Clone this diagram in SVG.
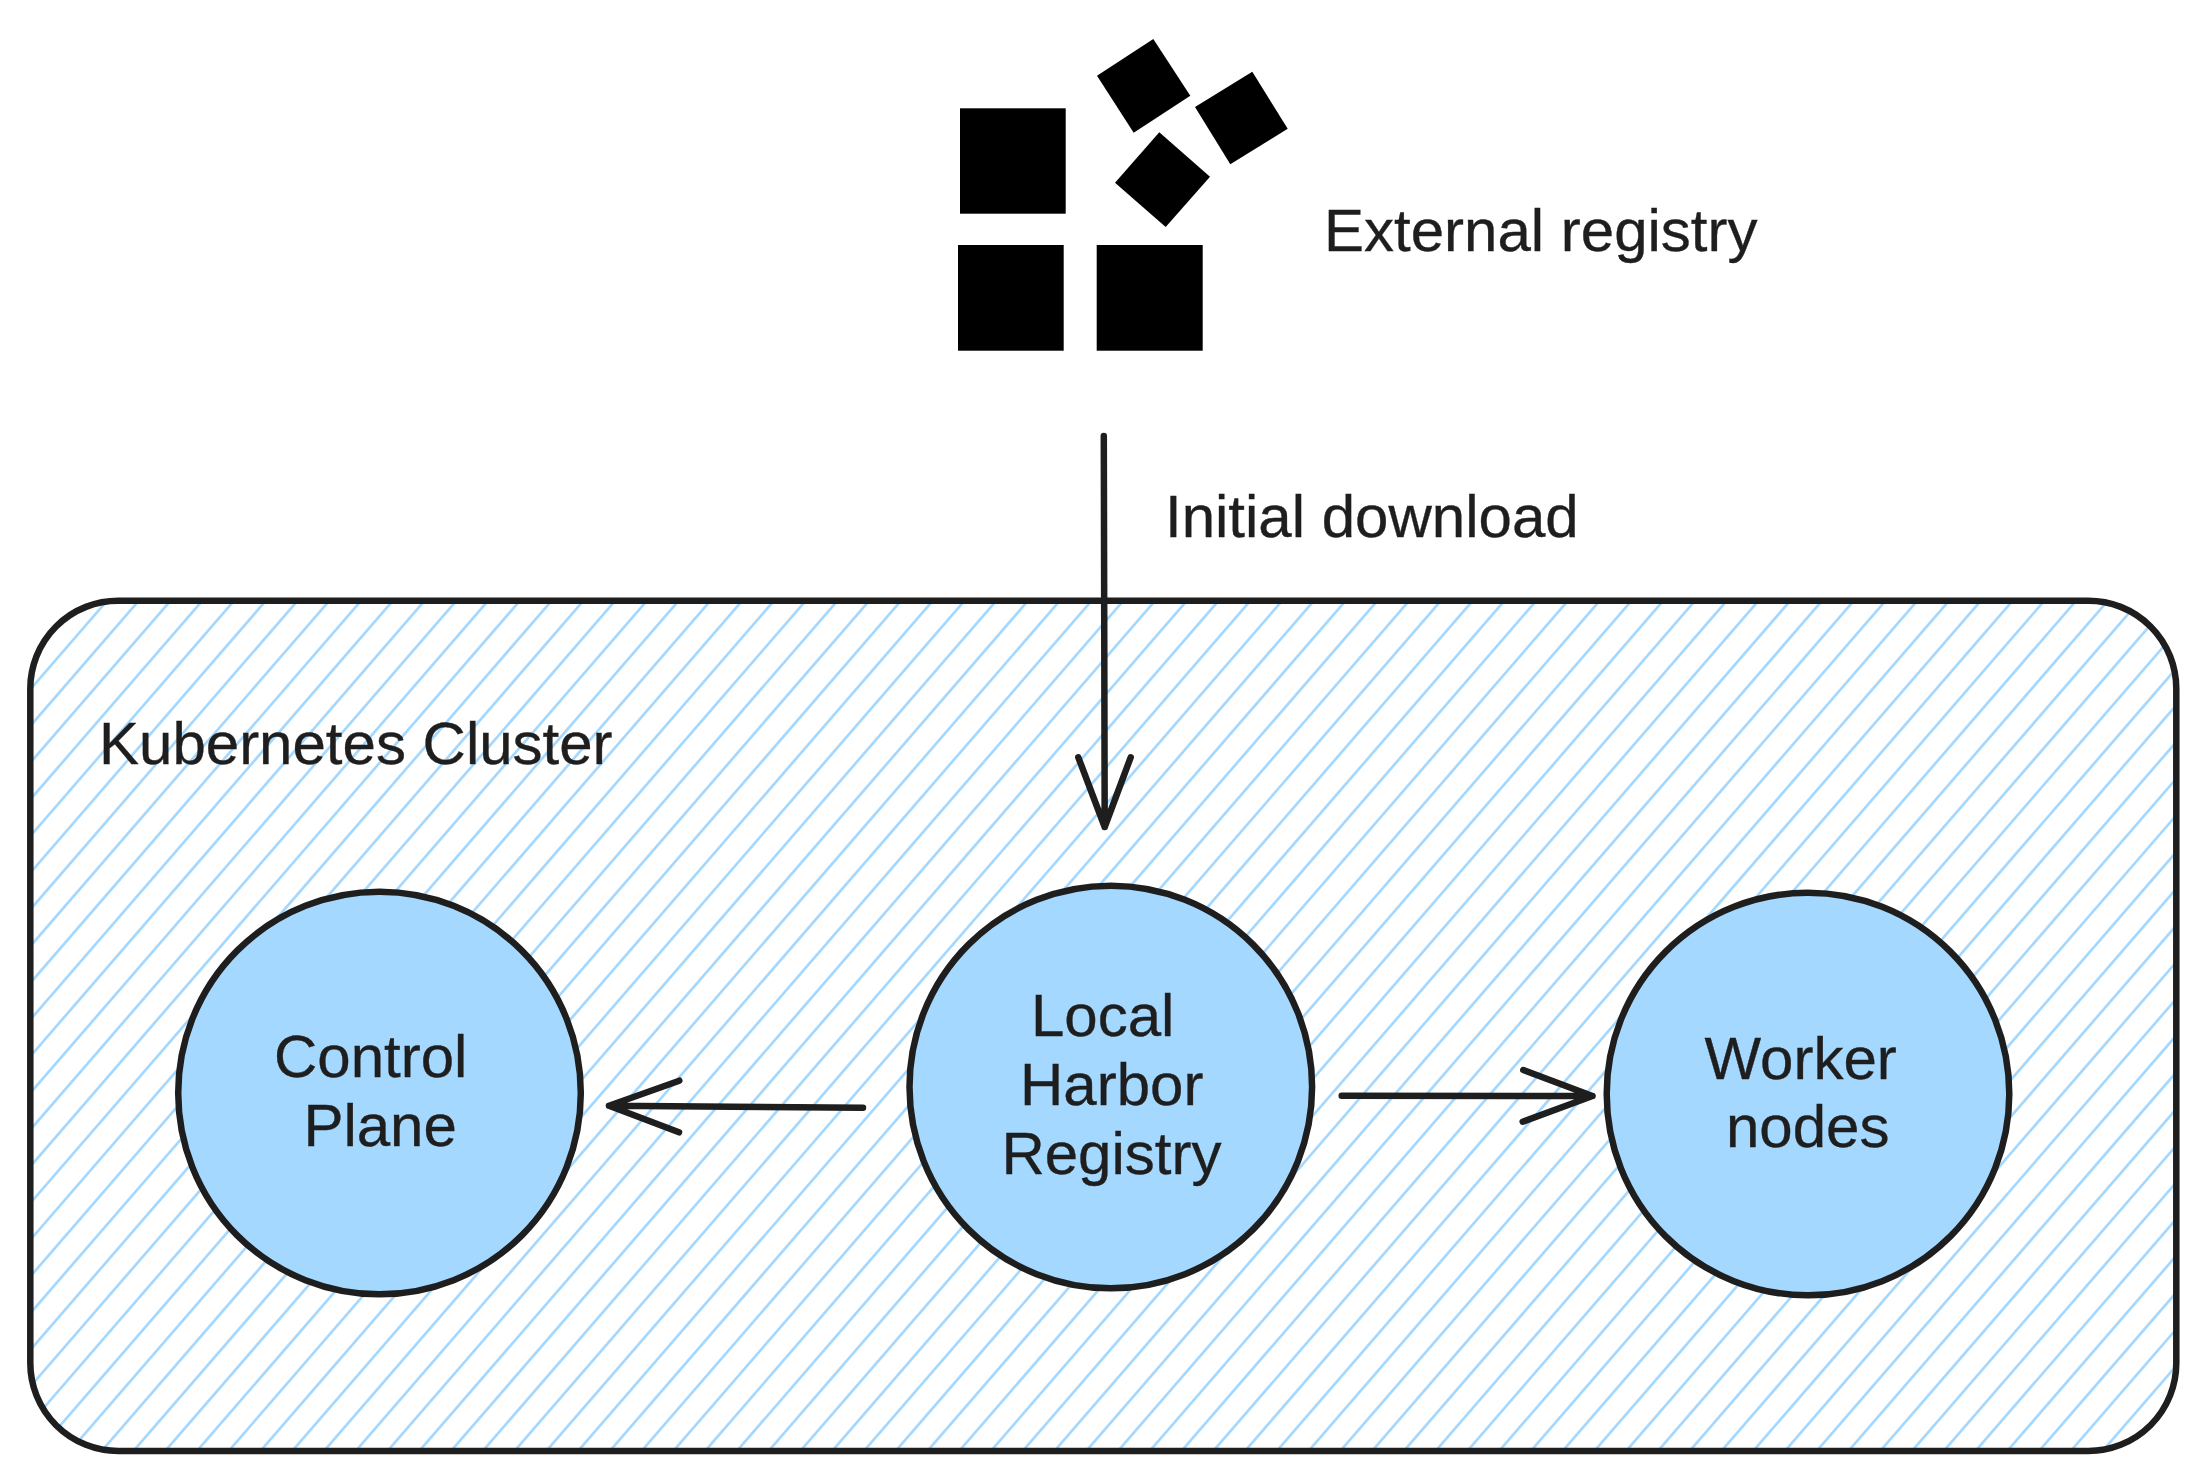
<svg xmlns="http://www.w3.org/2000/svg" width="2206" height="1481" viewBox="0 0 2206 1481">
  <style>
    .t { font-family: "Liberation Sans", Arial, sans-serif; font-size: 60px; fill: #1e1e1e; stroke: #1e1e1e; stroke-width: 0.35; }
    .n { fill: #a5d8ff; stroke: #1e1e1e; stroke-width: 6.5; }
    .c { fill: none; stroke: #1e1e1e; stroke-width: 6.5; stroke-linecap: round; stroke-linejoin: round; }
    .b { fill: #000; }
    .h { fill: none; stroke: #a5d8ff; stroke-width: 2.7; }
  </style>
  <defs>
    <clipPath id="cluster-clip">
      <rect x="30.3" y="600.7" width="2146" height="850.3" rx="88" ry="88"/>
    </clipPath>
  </defs>
  <rect width="2206" height="1481" fill="#fff"/>
  <g id="external-registry">
    <rect class="b" x="960" y="108.3" width="105.7" height="105.4"/>
    <rect class="b" x="958" y="245" width="105.7" height="105.7"/>
    <rect class="b" x="1096.7" y="245" width="106" height="105.7"/>
    <polygon class="b" points="1153.3,39 1190.3,95.7 1133.7,132.7 1097,75.7"/>
    <polygon class="b" points="1252.3,71.7 1287.7,128.7 1230.3,164.3 1195,107"/>
    <polygon class="b" points="1159.3,132.3 1210,176.7 1165.7,227 1115,182.7"/>
    <text class="t" x="1324" y="250.7">External registry</text>
  </g>
  <g id="kubernetes-cluster">
    <g clip-path="url(#cluster-clip)">
      <path class="h" transform="translate(0.8 0)" d="M-700.92 1460l752.9-870M-669.16 1460l752.9-870M-637.4 1460l752.9-870M-605.64 1460l752.9-870M-573.88 1460l752.9-870M-542.12 1460l752.9-870M-510.36 1460l752.9-870M-478.6 1460l752.9-870M-446.84 1460l752.9-870M-415.08 1460l752.9-870M-383.32 1460l752.9-870M-351.56 1460l752.9-870M-319.8 1460l752.9-870M-288.04 1460l752.9-870M-256.28 1460l752.9-870M-224.52 1460l752.9-870M-192.76 1460l752.9-870M-161 1460l752.9-870M-129.24 1460l752.9-870M-97.48 1460l752.9-870M-65.72 1460l752.9-870M-33.96 1460l752.9-870M-2.2 1460l752.9-870M29.56 1460l752.9-870M61.32 1460l752.9-870M93.08 1460l752.9-870M124.84 1460l752.9-870M156.6 1460l752.9-870M188.36 1460l752.9-870M220.12 1460l752.9-870M251.88 1460l752.9-870M283.64 1460l752.9-870M315.4 1460l752.9-870M347.16 1460l752.9-870M378.92 1460l752.9-870M410.68 1460l752.9-870M442.44 1460l752.9-870M474.2 1460l752.9-870M505.96 1460l752.9-870M537.72 1460l752.9-870M569.48 1460l752.9-870M601.24 1460l752.9-870M633 1460l752.9-870M664.76 1460l752.9-870M696.52 1460l752.9-870M728.28 1460l752.9-870M760.04 1460l752.9-870M791.8 1460l752.9-870M823.56 1460l752.9-870M855.32 1460l752.9-870M887.08 1460l752.9-870M918.84 1460l752.9-870M950.6 1460l752.9-870M982.36 1460l752.9-870M1014.12 1460l752.9-870M1045.88 1460l752.9-870M1077.64 1460l752.9-870M1109.4 1460l752.9-870M1141.16 1460l752.9-870M1172.92 1460l752.9-870M1204.68 1460l752.9-870M1236.44 1460l752.9-870M1268.2 1460l752.9-870M1299.96 1460l752.9-870M1331.72 1460l752.9-870M1363.48 1460l752.9-870M1395.24 1460l752.9-870M1427 1460l752.9-870M1458.76 1460l752.9-870M1490.52 1460l752.9-870M1522.28 1460l752.9-870M1554.04 1460l752.9-870M1585.8 1460l752.9-870M1617.56 1460l752.9-870M1649.32 1460l752.9-870M1681.08 1460l752.9-870M1712.84 1460l752.9-870M1744.6 1460l752.9-870M1776.36 1460l752.9-870M1808.12 1460l752.9-870M1839.88 1460l752.9-870M1871.64 1460l752.9-870M1903.4 1460l752.9-870M1935.16 1460l752.9-870M1966.92 1460l752.9-870M1998.68 1460l752.9-870M2030.44 1460l752.9-870M2062.2 1460l752.9-870M2093.96 1460l752.9-870M2125.72 1460l752.9-870M2157.48 1460l752.9-870"/>
    </g>
    <rect x="30.3" y="600.7" width="2146" height="850.3" rx="88" ry="88" fill="none" stroke="#1e1e1e" stroke-width="6.5"/>
    <text class="t" x="99" y="764">Kubernetes Cluster</text>
  </g>
  <g id="control-plane">
    <circle class="n" cx="379.5" cy="1093" r="201.3"/>
    <text class="t" x="274" y="1077.3">Control</text>
    <text class="t" x="303.4" y="1146.3">Plane</text>
  </g>
  <g id="local-harbor-registry">
    <circle class="n" cx="1110.8" cy="1087" r="201.3"/>
    <text class="t" x="1031" y="1036">Local</text>
    <text class="t" x="1020" y="1105.3">Harbor</text>
    <text class="t" x="1001.4" y="1174.3">Registry</text>
  </g>
  <g id="worker-nodes">
    <circle class="n" cx="1808" cy="1094" r="201.3"/>
    <text class="t" x="1704.5" y="1079">Worker</text>
    <text class="t" x="1726" y="1147.3">nodes</text>
  </g>
  <g id="connectors">
    <path class="c" d="M1103.8 436L1104.7 827M1078.3 757.3L1104.7 827L1130.7 757.3"/>
    <path class="c" d="M863 1107.7L609 1105.7M679.3 1080.7L609 1105.7L679 1132.3"/>
    <path class="c" d="M1341.7 1095.7L1592.5 1096M1523.3 1070L1592.5 1096L1522.7 1121.7"/>
  </g>
  <text class="t" x="1165" y="536.7">Initial download</text>
</svg>
